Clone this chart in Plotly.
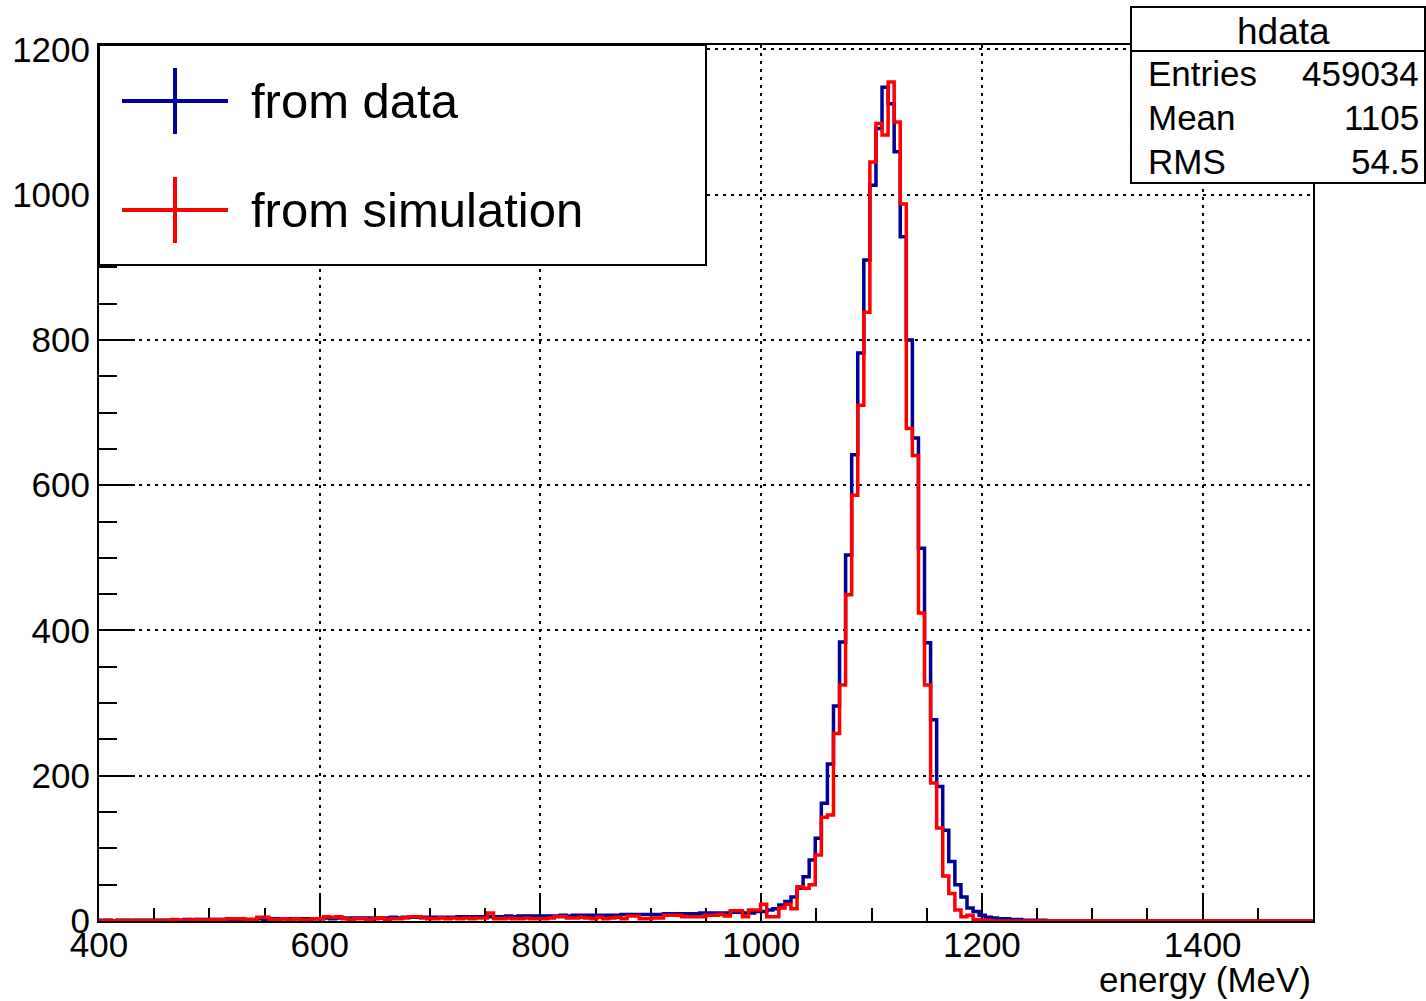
import numpy as np
import plotly.graph_objects as go

# ---------------- data ----------------
energy_min = 400.0
energy_max = 1500.0
n_bins = 200

data_counts = [
    1, 1, 0, 1, 1, 1, 1, 1, 1, 1,
    1, 1, 1, 1, 2, 1, 2, 2, 2, 2,
    2, 2, 2, 2, 2, 2, 3, 2, 3, 3,
    3, 3, 3, 3, 3, 3, 3, 4, 3, 4,
    4, 4, 4, 4, 4, 4, 4, 4, 5, 4,
    5, 5, 5, 5, 5, 5, 5, 5, 5, 6,
    6, 6, 6, 6, 6, 6, 6, 7, 6, 7,
    7, 7, 7, 7, 7, 7, 8, 7, 8, 8,
    8, 8, 8, 8, 8, 8, 9, 9, 9, 9,
    9, 9, 9, 10, 10, 10, 10, 10, 10, 11,
    11, 11, 11, 11, 12, 12, 11, 11, 13, 13,
    15, 17, 22, 27, 33, 45, 61, 84, 114, 162,
    216, 296, 384, 504, 642, 782, 910, 1013, 1091, 1148,
    1125, 1059, 942, 800, 665, 513, 383, 277, 185, 125,
    82, 50, 33, 18, 13, 8, 5, 4, 3, 3,
    2, 2, 1, 1, 1, 1, 0, 0, 0, 0,
    0, 0, 0, 0, 0, 0, 0, 0, 0, 0,
    0, 0, 0, 0, 0, 0, 0, 0, 0, 0,
    0, 0, 0, 0, 0, 0, 0, 0, 0, 0,
    0, 0, 0, 0, 0, 0, 0, 0, 0, 0,
]

sim_counts = [
    0, 1, 0, 1, 1, 0, 1, 1, 1, 0,
    1, 1, 2, 1, 1, 2, 2, 1, 2, 2,
    2, 3, 3, 3, 2, 2, 5, 5, 2, 2,
    3, 2, 3, 2, 2, 3, 3, 6, 5, 6,
    3, 2, 3, 3, 2, 3, 4, 2, 3, 3,
    4, 6, 6, 4, 3, 3, 4, 3, 4, 3,
    4, 3, 4, 4, 11, 3, 3, 4, 3, 3,
    4, 3, 3, 3, 4, 6, 6, 4, 4, 5,
    4, 3, 5, 3, 4, 5, 3, 7, 7, 3,
    3, 4, 4, 8, 8, 8, 6, 6, 6, 6,
    8, 8, 9, 7, 14, 14, 6, 15, 15, 23,
    6, 6, 18, 23, 17, 47, 45, 50, 91, 143,
    146, 258, 325, 449, 586, 710, 838, 1045, 1098, 1082,
    1155, 1100, 987, 678, 641, 424, 325, 190, 128, 62,
    38, 15, 6, 8, 2, 1, 1, 0, 0, 0,
    0, 0, 0, 0, 0, 0, 0, 0, 0, 0,
    0, 0, 0, 0, 0, 0, 0, 0, 0, 0,
    0, 0, 0, 0, 0, 0, 0, 0, 0, 0,
    0, 0, 0, 0, 0, 0, 0, 0, 0, 0,
    0, 0, 0, 0, 0, 0, 0, 0, 0, 0,
]

series_names = ["from data", "from simulation"]
x_title = "energy (MeV)"
stats_title = "hdata"
stats_labels = ["Entries", "Mean", "RMS"]
stats_values = ["459034", "1105", "54.5"]

# ---------------- styles / layout ----------------
W, H = 1426, 1001
PX0, PX1 = 99, 1313      # plot area (pixels)
PY0, PY1 = 45, 921
BLUE = "#000099"
RED = "#ff0000"
FONT = "Liberation Sans"


def xp(px):
    return (px - PX0) / (PX1 - PX0)


def yp(py):
    return (PY1 - py) / (PY1 - PY0)


edges = np.linspace(energy_min, energy_max, n_bins + 1)

fig = go.Figure()
for counts, color in [(data_counts, BLUE), (sim_counts, RED)]:
    fig.add_trace(go.Scatter(
        x=edges, y=list(counts) + [counts[-1]],
        mode="lines", line=dict(color=color, width=3.5, shape="hv"),
        showlegend=False, hoverinfo="skip"))

axis_common = dict(
    showline=True, linecolor="black", linewidth=2, mirror=True,
    ticks="inside", tickcolor="black", tickwidth=2,
    showgrid=True, gridcolor="black", gridwidth=2, griddash="3px,5px",
    zeroline=False, layer="below traces",
    tickfont=dict(family=FONT, size=35, color="black"),
)

fig.update_xaxes(
    range=[energy_min, energy_max], tick0=400, dtick=200, ticklen=26,
    ticklabelstandoff=-8,
    minor=dict(ticks="inside", ticklen=13, dtick=50, tick0=400,
               tickcolor="black", tickwidth=2, showgrid=False),
    **axis_common)
fig.update_yaxes(
    range=[0, 1206], tick0=0, dtick=200, ticklen=36,
    ticklabelstandoff=0,
    minor=dict(ticks="inside", ticklen=18, dtick=50, tick0=0,
               tickcolor="black", tickwidth=2, showgrid=False),
    **axis_common)

shapes = []
annotations = []

# legend box
shapes.append(dict(type="rect", xref="paper", yref="paper",
                   x0=xp(99), x1=xp(706), y0=yp(265), y1=yp(45),
                   line=dict(color="black", width=2), fillcolor="white",
                   layer="above"))
for name, color, cy in [(series_names[0], BLUE, 101), (series_names[1], RED, 210)]:
    shapes.append(dict(type="line", xref="paper", yref="paper",
                       x0=xp(122), x1=xp(228), y0=yp(cy), y1=yp(cy),
                       line=dict(color=color, width=4), layer="above"))
    shapes.append(dict(type="line", xref="paper", yref="paper",
                       x0=xp(175), x1=xp(175), y0=yp(cy - 33), y1=yp(cy + 33),
                       line=dict(color=color, width=4), layer="above"))
    annotations.append(dict(text=name, xref="paper", yref="paper",
                            x=xp(249), y=yp(cy), xanchor="left", yanchor="middle",
                            showarrow=False,
                            font=dict(family=FONT, size=49, color="black")))

# stats box
shapes.append(dict(type="rect", xref="paper", yref="paper",
                   x0=xp(1131), x1=xp(1425), y0=yp(183), y1=yp(7),
                   line=dict(color="black", width=2), fillcolor="white",
                   layer="above"))
shapes.append(dict(type="line", xref="paper", yref="paper",
                   x0=xp(1131), x1=xp(1425), y0=yp(51), y1=yp(51),
                   line=dict(color="black", width=2), layer="above"))
annotations.append(dict(text=stats_title, xref="paper", yref="paper",
                        x=xp(1283), y=yp(31), xanchor="center", yanchor="middle",
                        showarrow=False, font=dict(family=FONT, size=37, color="black")))
for lab, val, cy in zip(stats_labels, stats_values, [74, 117, 161]):
    annotations.append(dict(text=lab, xref="paper", yref="paper",
                            x=xp(1146), y=yp(cy), xanchor="left", yanchor="middle",
                            showarrow=False, font=dict(family=FONT, size=35, color="black")))
    annotations.append(dict(text=val, xref="paper", yref="paper",
                            x=xp(1421), y=yp(cy), xanchor="right", yanchor="middle",
                            showarrow=False, font=dict(family=FONT, size=35, color="black")))

# x-axis title (right aligned, ROOT style)
annotations.append(dict(text=x_title, xref="paper", yref="paper",
                        x=xp(1313), y=yp(979), xanchor="right", yanchor="middle",
                        showarrow=False, font=dict(family=FONT, size=35, color="black")))

fig.update_layout(
    width=W, height=H,
    margin=dict(l=PX0, r=W - PX1, t=PY0, b=H - PY1, pad=0),
    paper_bgcolor="white", plot_bgcolor="white",
    shapes=shapes, annotations=annotations,
    showlegend=False,
)

fig.write_html(
    "out.html",
    config={"displayModeBar": False},
    post_script="document.body.style.margin='0';document.body.style.overflow='hidden';",
)
